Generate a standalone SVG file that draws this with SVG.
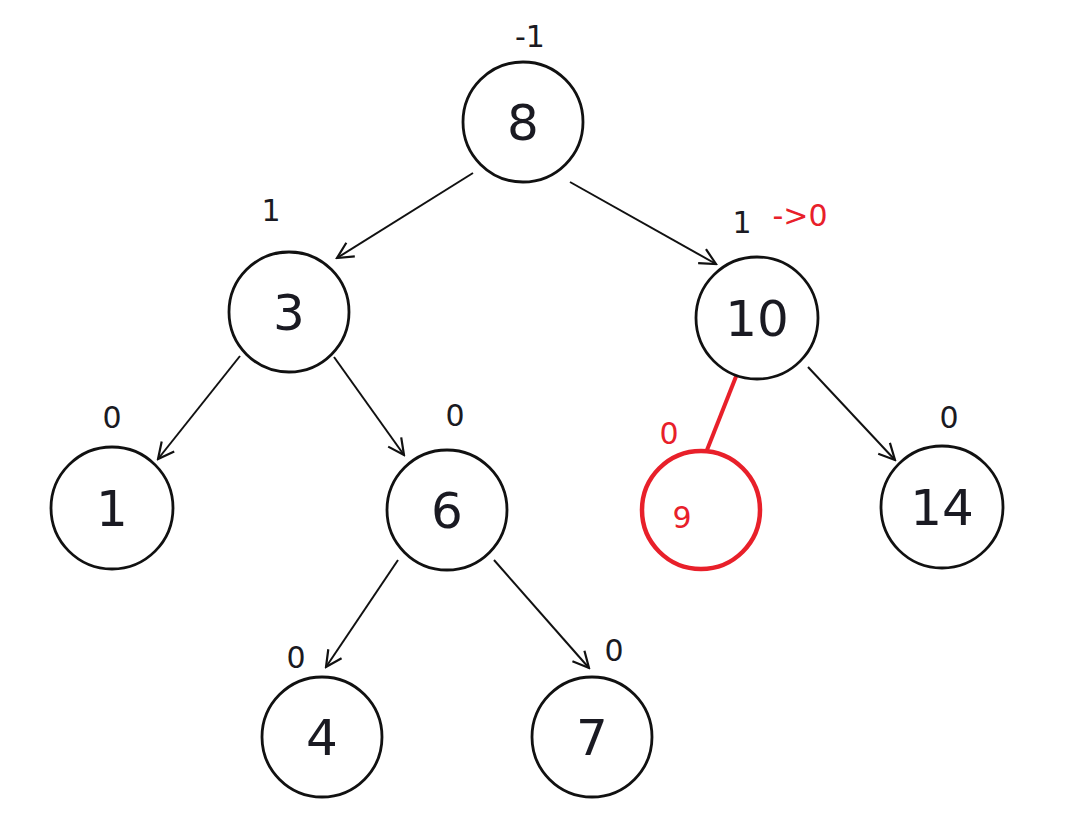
<svg xmlns="http://www.w3.org/2000/svg" width="1083" height="833" viewBox="0 0 1083 833">
<style>
.node{fill:#fff;stroke:#111;stroke-width:2.8}
.val{font-family:"DejaVu Sans",sans-serif;font-size:50px;fill:#1a1a22;text-anchor:middle}
.bf{font-family:"DejaVu Sans",sans-serif;font-size:30px;fill:#1a1a22;text-anchor:middle}
.red{fill:#e8202a}
.edge{stroke:#111;stroke-width:2;fill:none;marker-end:url(#arr)}
</style>
<defs>
<marker id="arr" viewBox="0 0 20 20" refX="18" refY="10" markerWidth="20" markerHeight="20" markerUnits="userSpaceOnUse" orient="auto">
<path d="M2,2 L18,10 L2,18" fill="none" stroke="#111" stroke-width="2.2"/>
</marker>
</defs>
<rect width="1083" height="833" fill="#fff"/>
<g id="connectors">
<line class="edge" x1="473" y1="173" x2="337" y2="258"/>
<line class="edge" x1="570" y1="182" x2="716" y2="264"/>
<line class="edge" x1="240" y1="356" x2="158" y2="459"/>
<line class="edge" x1="334" y1="357" x2="404" y2="455"/>
<line class="edge" x1="808" y1="367" x2="895" y2="460"/>
<line class="edge" x1="398" y1="560" x2="326" y2="667"/>
<line class="edge" x1="494" y1="560" x2="589" y2="668"/>
<line x1="737" y1="374" x2="707" y2="450" stroke="#e8202a" stroke-width="4"/>
</g>
<g id="n8"><circle class="node" cx="523" cy="122" r="60"/><text class="val" x="523" y="140">8</text><text class="bf" x="530" y="47">-1</text></g>
<g id="n3"><circle class="node" cx="289" cy="312" r="60"/><text class="val" x="289" y="330">3</text><text class="bf" x="271" y="221">1</text></g>
<g id="n10"><circle class="node" cx="757" cy="318" r="61"/><text class="val" x="757" y="336">10</text><text class="bf" x="742" y="233">1</text><text class="bf red" x="800" y="226">-&gt;0</text></g>
<g id="n1"><circle class="node" cx="112" cy="508" r="61"/><text class="val" x="112" y="526">1</text><text class="bf" x="112" y="428">0</text></g>
<g id="n6"><circle class="node" cx="447" cy="510" r="60"/><text class="val" x="447" y="528">6</text><text class="bf" x="455" y="426">0</text></g>
<g id="n9"><circle cx="701" cy="510" r="59" fill="#fff" stroke="#e8202a" stroke-width="4.5"/><text class="bf red" x="682" y="528" font-size="26">9</text><text class="bf red" x="669" y="444">0</text></g>
<g id="n14"><circle class="node" cx="942" cy="507" r="61"/><text class="val" x="942" y="525">14</text><text class="bf" x="949" y="428">0</text></g>
<g id="n4"><circle class="node" cx="322" cy="737" r="60"/><text class="val" x="322" y="755">4</text><text class="bf" x="296" y="668">0</text></g>
<g id="n7"><circle class="node" cx="592" cy="737" r="60"/><text class="val" x="592" y="755">7</text><text class="bf" x="614" y="661">0</text></g>
</svg>
